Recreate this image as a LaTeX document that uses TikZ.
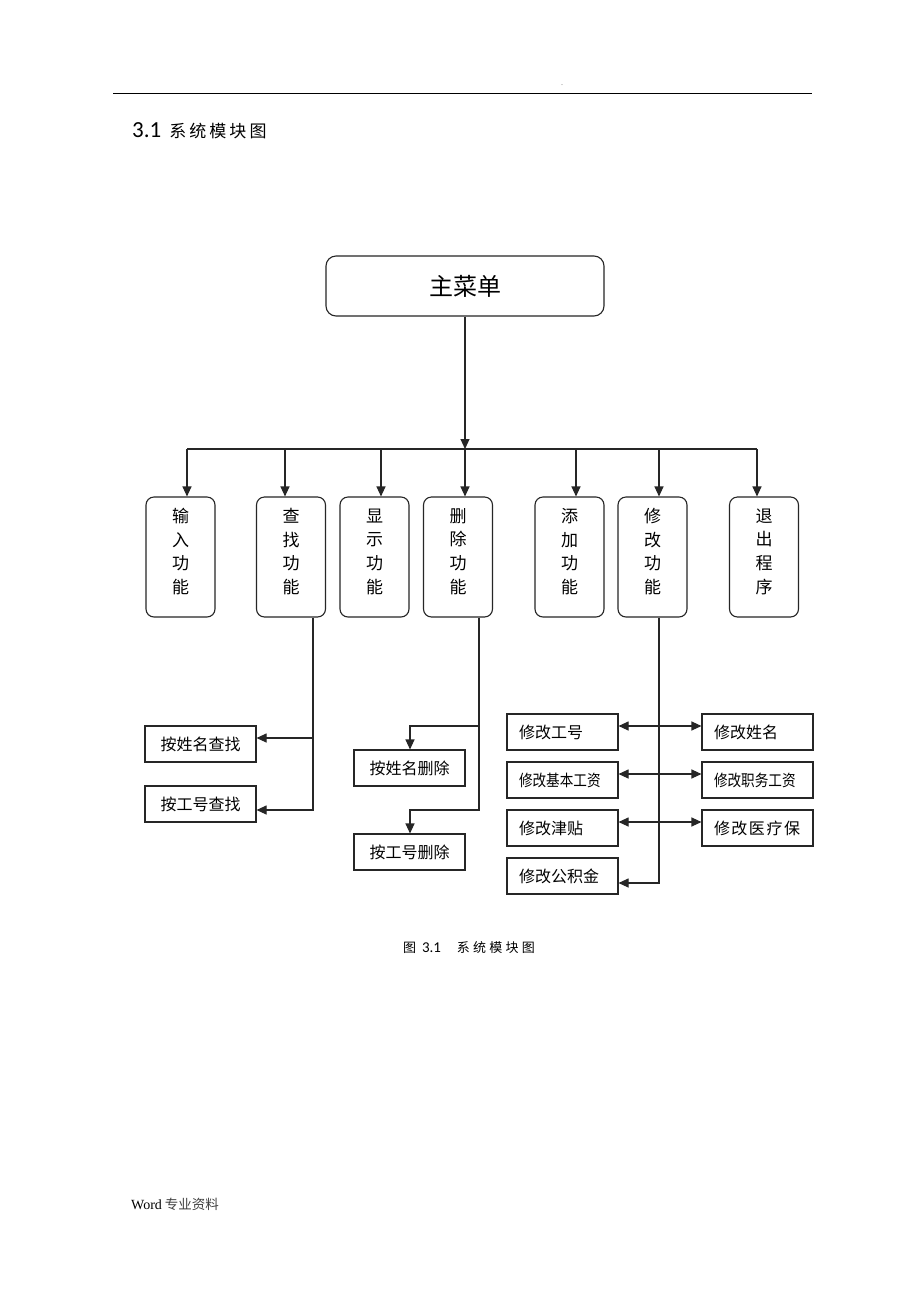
\documentclass[tikz,border=0pt]{standalone}
\usepackage{fontspec}
\setmainfont{Liberation Serif}
\newfontfamily\cjk{Noto Sans CJK SC}
\newfontfamily\cjkwide[LetterSpace=18]{Noto Sans CJK SC}
\newfontfamily\cjkcap[LetterSpace=25]{Noto Sans CJK SC}
\newfontfamily\numfont{Carlito}
\usetikzlibrary{arrows.meta}
\begin{document}
\begin{tikzpicture}[x=1pt,y=-1pt,
  ln/.style={line width=1.1pt,draw=black!85},
  tip/.tip={Triangle[length=10pt,width=9pt]},
  arr/.style={ln,-tip},
  darr/.style={ln,tip-tip},
  mainbox/.style={ln,rounded corners=10pt,minimum width=278pt,minimum height=60pt,inner sep=0pt,font=\cjk\fontsize{24}{28}\selectfont},
  vbox/.style={ln,rounded corners=8pt,minimum width=69pt,minimum height=120pt,inner sep=0pt},
  vtext/.style={align=center,inner sep=0pt,font=\cjk\fontsize{17}{23.7}\selectfont},
  sbox/.style={ln,minimum width=111pt,minimum height=36pt,inner sep=0pt,font=\cjk\fontsize{16}{18}\selectfont},
  lbox/.style={sbox,text width=87pt,align=left},
]
\useasboundingbox (0,0) rectangle (920,1302);
\fill[white] (0,0) rectangle (920,1302);

% header
\coordinate (hl) at (113,93);
\coordinate (hr) at (812,93);
\draw[line width=0.9pt] (hl) -- (hr);
\node[inner sep=0pt,font=\fontsize{6}{6}\selectfont] (hdot) at (562,85) {.};

% title
\node[anchor=west,inner sep=0pt] (title) at (132,131)
  {{\numfont\fontsize{23}{26}\selectfont 3.1}\hspace{8pt}{\cjkwide\fontsize{17}{20}\selectfont 系统模块图}};

% main
\node[mainbox] (main) at (465,286) {主菜单};

% function boxes
\node[vbox] (in) at (180.5,557) {};
\node[vbox] (cz) at (291,557) {};
\node[vbox] (xs) at (374.5,557) {};
\node[vbox] (sc) at (458,557) {};
\node[vbox] (tj) at (569.5,557) {};
\node[vbox] (xg) at (652.5,557) {};
\node[vbox] (tc) at (764,557) {};
\node[vtext] (inT) at (180.5,551.5) {输\\入\\功\\能};
\node[vtext] (czT) at (291,551.5) {查\\找\\功\\能};
\node[vtext] (xsT) at (374.5,551.5) {显\\示\\功\\能};
\node[vtext] (scT) at (458,551.5) {删\\除\\功\\能};
\node[vtext] (tjT) at (569.5,551.5) {添\\加\\功\\能};
\node[vtext] (xgT) at (652.5,551.5) {修\\改\\功\\能};
\node[vtext] (tcT) at (764,551.5) {退\\出\\程\\序};

% bus
\coordinate (busL) at (187,449);
\coordinate (busR) at (757,449);
\draw[arr] (main.south) -- (465,449);
\draw[ln] (busL) -- (busR);
\draw[arr] (187,449) -- (187,449 |- in.north);
\draw[arr] (285,449) -- (285,449 |- cz.north);
\draw[arr] (381,449) -- (381,449 |- xs.north);
\draw[arr] (465,449) -- (465,449 |- sc.north);
\draw[arr] (576,449) -- (576,449 |- tj.north);
\draw[arr] (659,449) -- (659,449 |- xg.north);
\draw[arr] (757,449) -- (757,449 |- tc.north);

% search sub boxes
\node[sbox] (sn) at (200.5,744) {按姓名查找};
\node[sbox] (sg) at (200.5,804) {按工号查找};
\draw[ln] (cz.south -| 313,0) -- (313,738);
\draw[arr] (313,738) -- (sn.east |- 313,738);
\draw[arr] (313,738) -- (313,810) -- (sg.east |- 313,810);

% delete sub boxes
\node[sbox] (dn) at (409.5,768) {按姓名删除};
\node[sbox] (dg) at (409.5,852) {按工号删除};
\draw[ln] (sc.south -| 479,0) -- (479,726);
\draw[arr] (479,726) -- (410,726) -- (410,726 |- dn.north);
\draw[arr] (479,726) -- (479,810) -- (410,810) -- (410,810 |- dg.north);

% modify sub boxes
\node[lbox] (m1) at (562.5,732) {修改工号};
\node[lbox] (m2) at (562.5,780) {\scalebox{0.85}[1]{修改基本工资}};
\node[lbox] (m3) at (562.5,828) {修改津贴};
\node[lbox] (m4) at (562.5,876) {修改公积金};
\node[lbox] (r1) at (757.5,732) {修改姓名};
\node[lbox] (r2) at (757.5,780) {\scalebox{0.85}[1]{修改职务工资}};
\node[lbox] (r3) at (757.5,828) {修\hspace{1.5pt}改\hspace{1.5pt}医\hspace{1.5pt}疗\hspace{1.5pt}保};
\draw[arr] (xg.south -| 659,0) -- (659,883) -- (m4.east |- 659,883);
\draw[darr] (m1.east |- 0,726) -- (r1.west |- 0,726);
\draw[darr] (m2.east |- 0,774) -- (r2.west |- 0,774);
\draw[darr] (m3.east |- 0,822) -- (r3.west |- 0,822);

% caption
\node[inner sep=0pt] (cap) at (469,948)
  {{\cjk\fontsize{13}{14}\selectfont 图}\hspace{6pt}{\numfont\fontsize{15}{16}\selectfont 3.1}\hspace{16pt}{\cjkcap\fontsize{13}{14}\selectfont 系统模块图}};

% footer
\node[anchor=west,inner sep=0pt] (foot) at (131,1204)
  {{\fontsize{14}{16}\selectfont Word}\hspace{3pt}{\cjk\color{black!75}\fontsize{13.5}{16}\selectfont 专业资料}};
\end{tikzpicture}
\end{document}
